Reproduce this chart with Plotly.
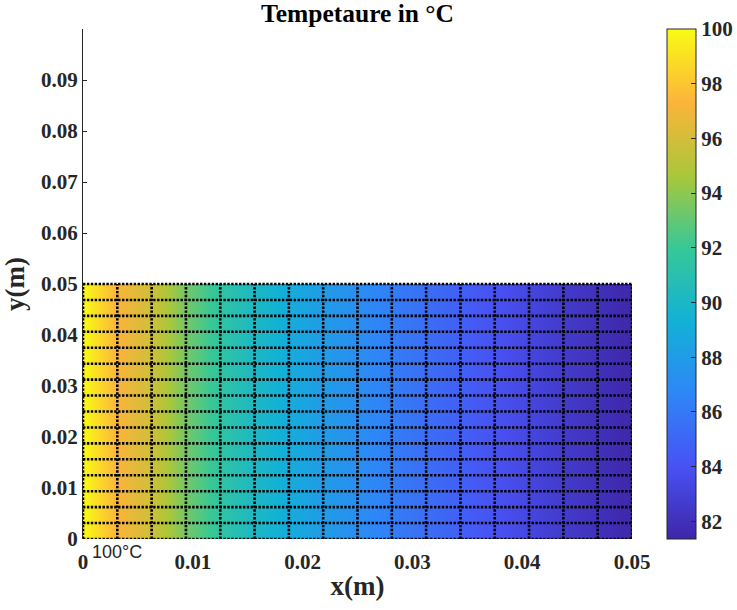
import plotly.graph_objects as go

# ---- data ----
x_nodes = [i * 0.05 / 16 for i in range(17)]          # grid nodes along x (m)
y_nodes = [j * 0.05 / 16 for j in range(17)]          # grid nodes along y (m)
temp_x = [100.0, 97.3, 95.8, 93.4, 91.5, 90.1, 89.0, 88.0, 87.1,
          86.2, 85.4, 84.7, 84.0, 83.3, 82.6, 82.0, 81.4]  # temperature (°C) per x node
xtick_vals = [0, 0.01, 0.02, 0.03, 0.04, 0.05]
xtick_text = ["0", "0.01", "0.02", "0.03", "0.04", "0.05"]
ytick_vals = [0, 0.01, 0.02, 0.03, 0.04, 0.05, 0.06, 0.07, 0.08, 0.09]
ytick_text = ["0", "0.01", "0.02", "0.03", "0.04", "0.05", "0.06", "0.07", "0.08", "0.09"]
cbar_vals = [82, 84, 86, 88, 90, 92, 94, 96, 98, 100]
c_min, c_max = 81.35, 100.0

parula = [
    [0 / 7, "rgb(62,38,168)"],
    [1 / 7, "rgb(72,82,244)"],
    [2 / 7, "rgb(46,135,247)"],
    [3 / 7, "rgb(18,177,214)"],
    [4 / 7, "rgb(55,200,151)"],
    [5 / 7, "rgb(171,199,57)"],
    [6 / 7, "rgb(252,180,58)"],
    [7 / 7, "rgb(249,251,21)"],
]

z = [temp_x[:] for _ in range(len(y_nodes) - 1)]

FONT = "Liberation Serif"
TXT = "#262626"

fig = go.Figure()
fig.add_trace(go.Heatmap(
    x=x_nodes, y=y_nodes, z=z, zsmooth="best",
    colorscale=parula, zmin=c_min, zmax=c_max,
    colorbar=dict(
        x=(667 - 83) / 549, xanchor="left", xpad=0,
        y=0.5, yanchor="middle", len=1.0, lenmode="fraction", ypad=0,
        thickness=29, thicknessmode="pixels",
        outlinewidth=1, outlinecolor=TXT,
        tickvals=cbar_vals, ticks="inside", ticklen=5, tickcolor=TXT,
        tickfont=dict(family=FONT, size=21, color=TXT, weight="bold"),
    ),
    hoverinfo="skip",
))

# grid lines (dotted)
hx, hy = [], []
for yv in y_nodes:
    hx += [x_nodes[0], x_nodes[-1], None]
    hy += [yv, yv, None]
vx, vy = [], []
for xv in x_nodes:
    vx += [xv, xv, None]
    vy += [y_nodes[0], y_nodes[-1], None]
for gx, gy in ((hx, hy), (vx, vy)):
    fig.add_trace(go.Scatter(
        x=gx, y=gy, mode="lines",
        line=dict(color="black", width=2.6, dash="2.4px,1.5px"),
        showlegend=False, hoverinfo="skip",
    ))

fig.update_layout(
    width=737, height=610,
    margin=dict(l=83, r=105, t=29, b=71, autoexpand=False),
    paper_bgcolor="white", plot_bgcolor="white",
    showlegend=False,
    title=dict(text="<b>Tempetaure in °C</b>", x=0.5, xref="paper",
               y=1 - 13 / 610, yref="container", yanchor="middle",
               font=dict(family=FONT, size=25.5, color="black")),
    xaxis=dict(range=[0, 0.05], tickvals=xtick_vals, ticktext=xtick_text,
               showgrid=False, zeroline=False, showline=False, ticks="",
               ticklabelstandoff=8,
               tickfont=dict(family=FONT, size=21, color=TXT, weight="bold"),
               title=dict(text="<b>x(m)</b>", standoff=3,
                          font=dict(family=FONT, size=27, color=TXT))),
    yaxis=dict(range=[0, 0.1], tickvals=ytick_vals, ticktext=ytick_text,
               showgrid=False, zeroline=False, showline=True, linecolor=TXT,
               linewidth=1, ticks="inside", ticklen=4, tickcolor=TXT,
               layer="below traces",
               tickfont=dict(family=FONT, size=21, color=TXT, weight="bold"),
               title=dict(text="<b>y(m)</b>", standoff=8,
                          font=dict(family=FONT, size=27, color=TXT))),
    annotations=[dict(text="100°C", xref="paper", yref="paper",
                      x=(117 - 83) / 549, y=(539 - 552) / 510,
                      xanchor="center", yanchor="middle", showarrow=False,
                      font=dict(family="Liberation Sans", size=18, color=TXT))],
)

fig.write_html("out.html")
